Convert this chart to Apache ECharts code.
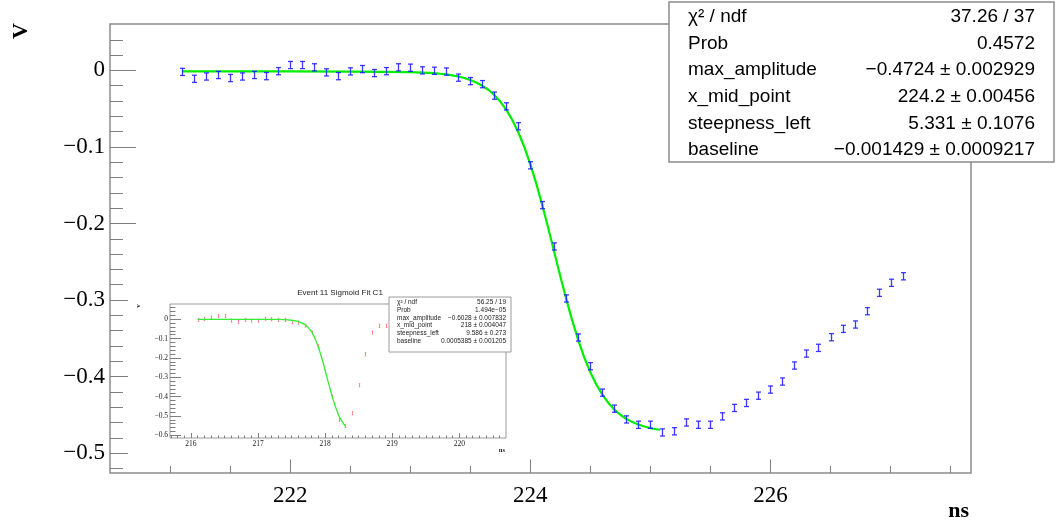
<!DOCTYPE html>
<html><head><meta charset="utf-8">
<script src="https://cdn.jsdelivr.net/npm/echarts@6/dist/echarts.min.js"></script>
<style>html,body{margin:0;padding:0;background:#fff;}#c{width:1063px;height:527px;}</style>
</head><body><div id="c"></div>
<script>
// ---------- main graph data (ns, V) ----------
const xValues = [221.1,221.2,221.3,221.4,221.5,221.6,221.7,221.8,221.9,222.0,
  222.1,222.2,222.3,222.4,222.5,222.6,222.7,222.8,222.9,223.0,
  223.1,223.2,223.3,223.4,223.5,223.6,223.7,223.8,223.9,224.0,
  224.1,224.2,224.3,224.4,224.5,224.6,224.7,224.8,224.9,225.0,
  225.1,225.2,225.3,225.4,225.5,225.6,225.7,225.8,225.9,226.0,
  226.1,226.2,226.3,226.4,226.5,226.6,226.7,226.8,226.9,227.0,227.1];
const yValues = [-0.002,-0.011,-0.008,-0.006,-0.010,-0.008,-0.006,-0.0075,-0.001,0.007,
  0.007,0.004,-0.0026,-0.0075,-0.0013,0.0017,-0.0035,-0.001,0.004,0.0035,
  0.000,-0.0005,-0.0015,-0.0095,-0.014,-0.018,-0.033,-0.047,-0.073,-0.124,
  -0.176,-0.230,-0.298,-0.349,-0.3865,-0.421,-0.442,-0.456,-0.463,-0.463,
  -0.473,-0.4715,-0.460,-0.463,-0.463,-0.452,-0.441,-0.4345,-0.425,-0.417,
  -0.4065,-0.3856,-0.370,-0.3625,-0.3486,-0.3377,-0.332,-0.3146,-0.2906,-0.2775,-0.269];
const yErr = 0.0047;

// fitted sigmoid curve, sampled along the drawn green line
const fitX = [221.1,221.5,222.0,222.5,223.0,223.2,223.25,223.3,223.35,223.4,223.45,223.5,223.55,223.6,223.65,
  223.7,223.75,223.8,223.85,223.9,223.95,224.0,224.05,224.1,224.15,224.2,224.25,224.3,224.35,224.4,
  224.45,224.5,224.55,224.6,224.65,224.7,224.75,224.8,224.85,224.9,224.95,225.0,225.05,225.08];
const fitY = [-0.0014,-0.0014,-0.0014,-0.0015,-0.0022,-0.0037,-0.0044,-0.0053,-0.0065,-0.0080,-0.0099,-0.0125,-0.0158,-0.0200,-0.0253,
  -0.0322,-0.0408,-0.0515,-0.0647,-0.0808,-0.1000,-0.1224,-0.1479,-0.1761,-0.2063,-0.2376,-0.2689,-0.2991,-0.3273,-0.3528,
  -0.3752,-0.3944,-0.4105,-0.4237,-0.4345,-0.4431,-0.4499,-0.4553,-0.4595,-0.4627,-0.4653,-0.4673,-0.4688,-0.4695];

// ---------- inset graph data ----------
const insetX = [216.1,216.2,216.3,216.4,216.5,216.6,216.7,216.8,216.9,217.0,
  217.1,217.2,217.3,217.4,217.5,217.6,217.7,217.8,217.9,218.0,
  218.1,218.2,218.3,218.4,218.5,218.6,218.7,218.8,218.9];
const insetY = [-0.003,0.002,0.009,0.016,0.017,-0.007,-0.014,-0.003,-0.007,-0.007,
  0.003,0.000,-0.003,-0.003,-0.014,-0.017,-0.033,-0.069,-0.14,-0.27,
  -0.40,-0.52,-0.552,-0.486,-0.341,-0.181,-0.069,-0.034,-0.034];
const insetErr = 0.008;
const insetFitX = [216.1,216.5,217.0,217.3,217.4,217.5,217.6,217.7,217.75,217.8,217.85,217.9,217.95,218.0,218.05,218.1,218.15,218.2,218.25,218.3];
const insetFitY = [0.000,0.000,0.000,-0.001,-0.002,-0.005,-0.011,-0.028,-0.043,-0.066,-0.10,-0.145,-0.20,-0.265,-0.33,-0.395,-0.45,-0.495,-0.528,-0.552];

// ---------- ticks / labels ----------
const xMajorTicks = [222,224,226];
const xMinorTicks = [221,221.5,222.5,223,223.5,224.5,225,225.5,226.5,227,227.5];
const yMajorTicks = [0,-0.1,-0.2,-0.3,-0.4,-0.5];
const yTickLabels = ['0','\u22120.1','\u22120.2','\u22120.3','\u22120.4','\u22120.5'];
const yMinorTicks = [0.04,0.02,-0.02,-0.04,-0.06,-0.08,-0.12,-0.14,-0.16,-0.18,-0.22,-0.24,-0.26,-0.28,
  -0.32,-0.34,-0.36,-0.38,-0.42,-0.44,-0.46,-0.48,-0.52];
const insetXMajor = [216,217,218,219,220];
const insetYMajor = [0,-0.1,-0.2,-0.3,-0.4,-0.5,-0.6];
const insetYLabels = ['0','\u22120.1','\u22120.2','\u22120.3','\u22120.4','\u22120.5','\u22120.6'];
const insetXMinor = []; for (let i = 0; i <= 50; i++) { const v = Math.round((215.7 + i*0.1)*10)/10; if (v < 220.7) insetXMinor.push(v); }
const insetYMinor = []; for (let i = 0; i <= 34; i++) { insetYMinor.push(Math.round((0.06 - i*0.02)*100)/100); }

const statNames = ['\u03c7\u00b2 / ndf','Prob','max_amplitude','x_mid_point','steepness_left','baseline'];
const statValues = ['37.26 / 37','0.4572','\u22120.4724 \u00b1 0.002929','224.2 \u00b1 0.00456','5.331 \u00b1 0.1076','\u22120.001429 \u00b1 0.0009217'];
const insetStatValues = ['56.25 / 19','1.494e\u221205','\u22120.6028 \u00b1 0.007832','218 \u00b1 0.004047','9.586 \u00b1 0.273','0.0005385 \u00b1 0.001205'];
const insetTitle = 'Event 11 Sigmoid Fit C1';

// ---------- chart ----------
const tickColor = '#7f7f7f';
const serif = '"Liberation Serif", "DejaVu Serif", serif';
const sans = '"Liberation Sans", Arial, sans-serif';

function labelFor(values, labels) {
  return v => { const i = values.findIndex(t => Math.abs(t - v) < 1e-6); return i >= 0 ? labels[i] : ''; };
}
function tickAxis(grid, min, max, ticks, len, extra) {
  return Object.assign({
    type: 'value', gridIndex: grid, min: min, max: max,
    axisLine: {show: false, onZero: false}, splitLine: {show: false},
    axisTick: {show: true, inside: true, length: len, customValues: ticks, lineStyle: {color: tickColor, width: 1}},
    axisLabel: {show: false}
  }, extra || {});
}
function errRender(halfCap, color, lw, opacity) {
  return function (params, api) {
    const x = api.value(0), y = api.value(1), e = api.value(2);
    const t = api.coord([x, y + e]), b = api.coord([x, y - e]);
    const cx = Math.round(t[0]) + 0.5;
    const st = {stroke: color, lineWidth: lw, opacity: opacity};
    return {type: 'group', children: [
      {type: 'line', shape: {x1: cx, y1: t[1], x2: cx, y2: b[1]}, style: st},
      {type: 'line', shape: {x1: cx - halfCap, y1: t[1], x2: cx + halfCap, y2: t[1]}, style: st},
      {type: 'line', shape: {x1: cx - halfCap, y1: b[1], x2: cx + halfCap, y2: b[1]}, style: st}
    ]};
  };
}

const mainData = xValues.map((x, i) => [x, yValues[i], yErr]);
const fitData = fitX.map((x, i) => [x, fitY[i]]);
const insetData = insetX.map((x, i) => [x, insetY[i], insetErr]);
const insetFitData = insetFitX.map((x, i) => [x, insetFitY[i]]);

const X0 = 220.5, X1 = 227.67, Y0 = -0.526, Y1 = 0.0606;
const IX0 = 215.687, IX1 = 220.696, IY0 = -0.614, IY1 = 0.079;

const graphics = [];
// main stats box
graphics.push({type: 'rect', z: 100, shape: {x: 669, y: 2, width: 385, height: 160},
  style: {fill: '#fff', stroke: '#8c8c8c', lineWidth: 1.5}});
statNames.forEach((n, i) => {
  const y = 17 + i * 26.6;
  graphics.push({type: 'text', z: 101, x: 688, y: y, style: {text: n, fontSize: 19, fontFamily: sans, fill: '#000', align: 'left', verticalAlign: 'middle'}});
  graphics.push({type: 'text', z: 101, x: 1035, y: y, style: {text: statValues[i], fontSize: 19, fontFamily: sans, fill: '#000', align: 'right', verticalAlign: 'middle'}});
});
// inset stats box
graphics.push({type: 'rect', z: 100, shape: {x: 389, y: 297, width: 122, height: 55},
  style: {fill: '#fff', stroke: '#9a9a9a', lineWidth: 1}});
statNames.forEach((n, i) => {
  const y = 302.6 + i * 7.7;
  graphics.push({type: 'text', z: 101, x: 397, y: y, style: {text: n, fontSize: 6.5, fontFamily: sans, fill: '#222', align: 'left', verticalAlign: 'middle'}});
  graphics.push({type: 'text', z: 101, x: 506, y: y, style: {text: insetStatValues[i], fontSize: 6.5, fontFamily: sans, fill: '#222', align: 'right', verticalAlign: 'middle'}});
});
// titles
graphics.push({type: 'text', z: 101, x: 340, y: 293, style: {text: insetTitle, fontSize: 8, fontFamily: sans, fill: '#222', align: 'center', verticalAlign: 'middle'}});
graphics.push({type: 'text', z: 101, x: 21, y: 31, rotation: Math.PI / 2, style: {text: 'V', fontSize: 22, fontWeight: 'bold', fontFamily: serif, fill: '#000', align: 'center', verticalAlign: 'middle'}});
graphics.push({type: 'text', z: 101, x: 969, y: 511, style: {text: 'ns', fontSize: 22, fontWeight: 'bold', fontFamily: serif, fill: '#000', align: 'right', verticalAlign: 'middle'}});
graphics.push({type: 'text', z: 101, x: 138, y: 306, rotation: Math.PI / 2, style: {text: 'v', fontSize: 7, fontWeight: 'bold', fontFamily: serif, fill: '#222', align: 'center', verticalAlign: 'middle'}});
graphics.push({type: 'text', z: 101, x: 505, y: 450, style: {text: 'ns', fontSize: 6.5, fontWeight: 'bold', fontFamily: serif, fill: '#222', align: 'right', verticalAlign: 'middle'}});

const option = {
  animation: false,
  backgroundColor: '#fff',
  grid: [
    {left: 110, top: 24, width: 861, height: 449, show: true, borderColor: '#8c8c8c', borderWidth: 1.5, backgroundColor: 'transparent'},
    {left: 170, top: 304, width: 336, height: 134, show: true, borderColor: '#9a9a9a', borderWidth: 1, backgroundColor: 'transparent'}
  ],
  xAxis: [
    tickAxis(0, X0, X1, xMajorTicks, 13.5, {position: 'bottom',
      axisLabel: {show: true, customValues: xMajorTicks, margin: 11, fontFamily: serif, fontSize: 23, color: '#000'}}),
    tickAxis(0, X0, X1, xMinorTicks, 7, {position: 'bottom'}),
    tickAxis(1, IX0, IX1, insetXMajor, 5, {position: 'bottom',
      axisLabel: {show: true, customValues: insetXMajor, margin: 2, fontFamily: serif, fontSize: 7.5, color: '#222'}}),
    tickAxis(1, IX0, IX1, insetXMinor, 2.5, {position: 'bottom'})
  ],
  yAxis: [
    tickAxis(0, Y0, Y1, [0, -0.1, -0.2], 26, {position: 'left',
      axisLabel: {show: true, customValues: yMajorTicks, formatter: labelFor(yMajorTicks, yTickLabels), margin: 5, fontFamily: serif, fontSize: 23, color: '#000'}}),
    tickAxis(0, Y0, Y1, [-0.3, -0.4, -0.5], 18, {position: 'left'}),
    tickAxis(0, Y0, Y1, yMinorTicks, 13, {position: 'left'}),
    tickAxis(1, IY0, IY1, insetYMajor, 11, {position: 'left',
      axisLabel: {show: true, customValues: insetYMajor, formatter: labelFor(insetYMajor, insetYLabels), margin: 2, fontFamily: serif, fontSize: 7.5, color: '#222'}}),
    tickAxis(1, IY0, IY1, insetYMinor, 5.5, {position: 'left'})
  ],
  graphic: {elements: graphics},
  series: [
    {type: 'line', xAxisIndex: 0, yAxisIndex: 0, data: fitData, showSymbol: false, smooth: false, z: 3,
      lineStyle: {color: '#00ee00', width: 2.2}},
    {type: 'custom', xAxisIndex: 0, yAxisIndex: 0, data: mainData, z: 4,
      renderItem: errRender(2.5, '#1a1aff', 1.3, 0.85), encode: {x: 0, y: 1}},
    {type: 'custom', xAxisIndex: 2, yAxisIndex: 3, data: insetData, z: 4,
      renderItem: errRender(0.8, '#ff4a4a', 1, 0.6), encode: {x: 0, y: 1}},
    {type: 'line', xAxisIndex: 2, yAxisIndex: 3, data: insetFitData, showSymbol: false, smooth: false, z: 5,
      lineStyle: {color: '#33ee33', width: 1.3}}
  ]
};
echarts.init(document.getElementById('c'), null, {renderer: 'canvas'}).setOption(option);
</script></body></html>
